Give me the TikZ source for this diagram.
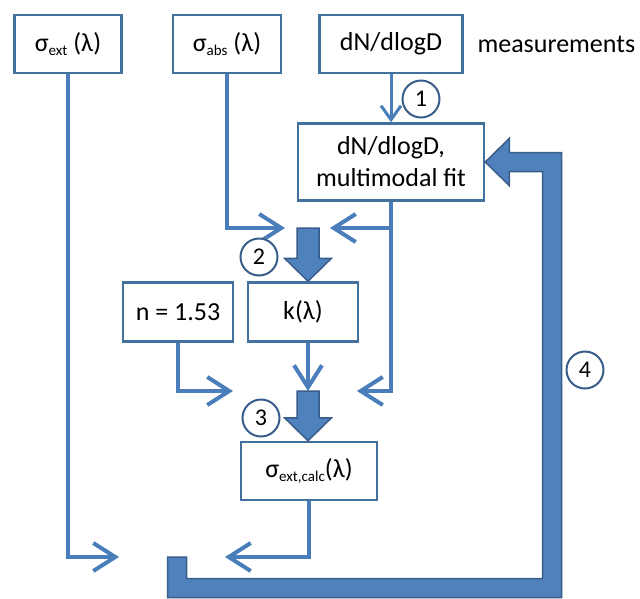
\documentclass[tikz,border=0pt]{standalone}
\usepackage{fontspec}
\setmainfont{Carlito}
\usetikzlibrary{arrows.meta,calc}
\definecolor{lineblue}{HTML}{4A7EBB}
\definecolor{boxblue}{HTML}{41719C}
\definecolor{fillblue}{HTML}{4F81BD}
\definecolor{darkblue}{HTML}{385D8A}
\newcommand{\sbs}[1]{\raisebox{-0.35ex}{\fontsize{15}{15}\selectfont #1}}
% fat downward arrow from a junction to the top of a node
\newcommand{\bigdown}[2]{%
  \draw[fatarrow] ($(#1)+(-11,0)$) -- ($(#1)+(11,0)$) -- ($(#1 |- #2)+(11,-23)$)
    -- ($(#1 |- #2)+(23.5,-23)$) -- (#1 |- #2) -- ($(#1 |- #2)+(-23.5,-23)$)
    -- ($(#1 |- #2)+(-11,-23)$) -- cycle;}

\begin{document}
\begin{tikzpicture}[x=1pt, y=-1pt,
  box/.style={draw=boxblue, line width=2.5pt, fill=white, inner sep=0pt,
    minimum height=58pt, font=\fontsize{26}{32}\selectfont, align=center},
  num/.style={circle, draw=darkblue, line width=2pt, fill=white, inner sep=0pt,
    minimum size=37pt, font=\fontsize{24}{24}\selectfont},
  flow/.style={lineblue, line width=4pt},
  >={Straight Barb[length=22pt, width=28pt]},
  fatarrow/.style={fill=fillblue, draw=darkblue, line width=1.5pt, line join=miter}]
\useasboundingbox (0,0) rectangle (640,598);

% inputs
\node[box, minimum width=107pt] (sext) at (68,44) {σ\sbs{ext} (λ)};
\node[box, minimum width=108pt] (sabs) at (227,44) {σ\sbs{abs} (λ)};
\node[box, minimum width=143pt] (dn) at (391,44) {dN/dlogD};
\node[anchor=west, font=\fontsize{26}{32}\selectfont] (meas) at (474,44) {measurements};

\node[box, minimum width=186pt, minimum height=77pt] (fit) at (391,162) {dN/dlogD,\\multimodal fit};
\node[box, minimum width=110pt, minimum height=59pt] (n) at (178,312) {n = 1.53};
\node[box, minimum width=110pt, minimum height=59pt] (k) at (303,312) {k(λ)};
\node[box, minimum width=136pt] (scalc) at (309,471) {σ\sbs{ext,calc}(λ)};

\coordinate (j2) at (308,228);
\coordinate (j3) at (308,391);
\coordinate (j4) at (177,557);
\coordinate (corner) at (552,588);

% thin connectors
\draw[flow, -{Straight Barb[length=14pt, width=20pt]}, line width=3pt] (dn.south) -- (fit.north);
\draw[flow, ->] (sabs.south) |- ($(j2)+(-23,0)$);
\draw[flow, ->] (fit.south) |- ($(j2)+(22,0)$);
\draw[flow, ->] (fit.south) |- ($(j3)+(49,0)$);
\draw[flow, ->] (n.south) |- ($(j3)+(-75,0)$);
\draw[flow, ->] (k.south -| j3) -- (j3);
\draw[flow, ->] (sext.south) |- ($(j4)+(-58,0)$);
\draw[flow, ->] (scalc.south) |- ($(j4)+(48,0)$);

% fat arrows
\bigdown{j2}{k.north}
\bigdown{j3}{scalc.north}
\draw[fatarrow] ($(j4)+(-9.5,0)$) -- ($(j4)+(9.5,0)$) |- ($(corner)+(-9.5,-9.5)$)
  |- ($(fit.east)+(24,9.5)$) -- ($(fit.east)+(24,23.5)$) -- (fit.east)
  -- ($(fit.east)+(24,-23.5)$) -- ($(fit.east)+(24,-9.5)$) -| ($(corner)+(9.5,9.5)$)
  -- ($(j4 |- corner)+(-9.5,9.5)$) -- cycle;

% step numbers
\node[num] (st1) at (421,99) {1};
\node[num] (st2) at (259,257) {2};
\node[num] (st3) at (261,418) {3};
\node[num] (st4) at (585,370) {4};
\end{tikzpicture}
\end{document}
